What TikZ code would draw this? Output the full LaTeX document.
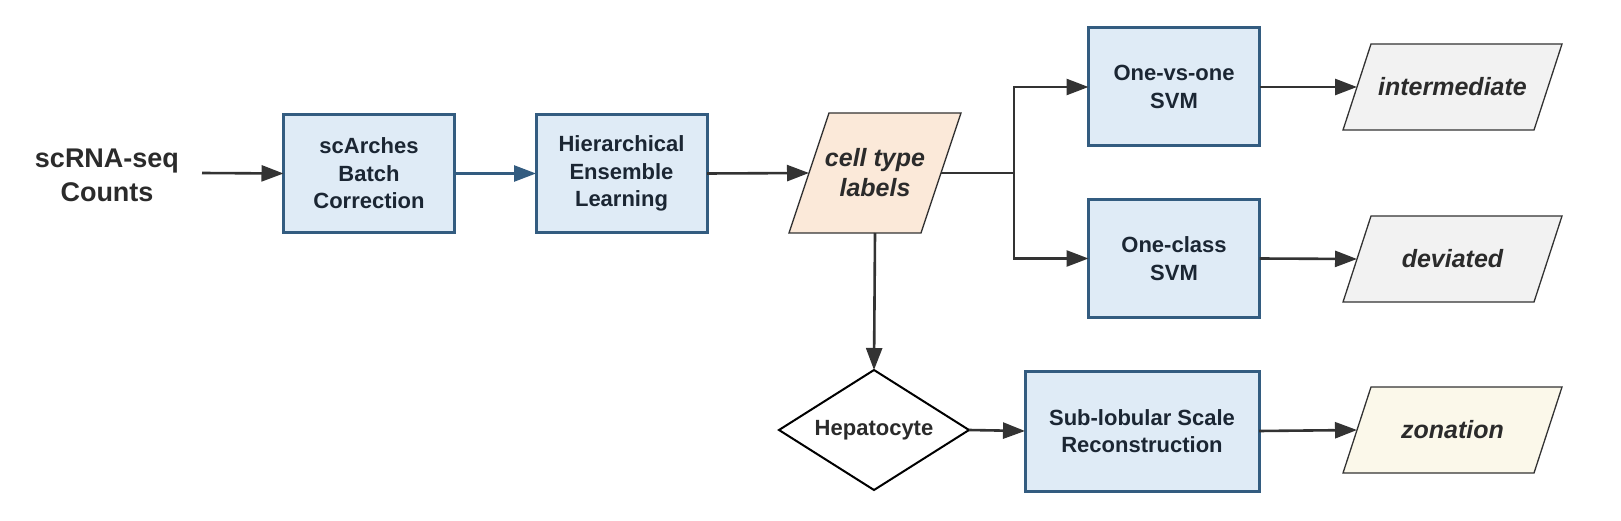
\documentclass[tikz,border=0pt]{standalone}
\usepackage{fontspec}
\setmainfont{Liberation Sans}
\usetikzlibrary{shapes.geometric,arrows.meta}
\pgfdeclarelayer{background}
\pgfsetlayers{background,main}
\definecolor{boxfill}{HTML}{DFEBF6}
\definecolor{boxline}{HTML}{335C80}
\definecolor{arrowgray}{HTML}{333333}
\definecolor{txtdark}{HTML}{1B2633}
\definecolor{txtgray}{HTML}{2B2B2B}
\definecolor{peach}{HTML}{FBE9D9}
\definecolor{lightgray}{HTML}{F2F2F2}
\definecolor{cream}{HTML}{FBF8EA}
\tikzset{
  procbox/.style={draw=boxline, line width=3pt, fill=boxfill, minimum width=171pt, minimum height=118pt,
    inner sep=0pt, outer sep=0pt, align=center, text=txtdark, font=\bfseries\fontsize{22}{27.5}\selectfont},
  datanode/.style={inner sep=0pt, outer sep=0pt, align=center, text=txtgray,
    font=\bfseries\itshape\fontsize{25}{30}\selectfont},
  outnode/.style={datanode, minimum width=191pt, minimum height=86pt},
  pgramline/.style={draw=arrowgray, line width=1.3pt, line join=miter},
  arr/.style={draw=arrowgray, line width=2.6pt, -{Triangle[length=22pt,width=16pt]}},
  link/.style={draw=arrowgray, line width=2.6pt},
  bluearr/.style={draw=boxline, line width=2.6pt, -{Triangle[length=22pt,width=16pt]}},
}
% parallelogram behind a named node: #1 node, #2 half slant, #3 fill
\newcommand\drawpgram[3]{%
  \begin{pgfonlayer}{background}
    \path[pgramline, fill=#3] ([xshift=-#2pt]#1.south west) -- ([xshift=-#2pt]#1.south east)
      -- ([xshift=#2pt]#1.north east) -- ([xshift=#2pt]#1.north west) -- cycle;
  \end{pgfonlayer}}
\begin{document}
\begin{tikzpicture}[x=1pt,y=-1pt]
\useasboundingbox (0,0) rectangle (1621,521);
\node[align=center, text=txtgray, font=\bfseries\fontsize{27}{34}\selectfont] (in) at (107,175) {scRNA-seq\\Counts};
\coordinate (inend) at (202,173);
\node[procbox] (sca) at (369,173.5) {scArches\\Batch\\Correction};
\node[procbox] (hel) at (621.5,173.5) {Hierarchical\\Ensemble\\Learning};
\node[datanode, minimum width=132pt, minimum height=120pt] (ct) at (875,173) {cell type\\labels};
\drawpgram{ct}{20}{peach}
\coordinate (split) at (1014,173);
\node[procbox] (ovo) at (1174,87) {One-vs-one\\SVM};
\node[procbox] (ocs) at (1174,258.5) {One-class\\SVM};
\node[outnode] (int) at (1452.5,87) {intermediate};
\drawpgram{int}{14}{lightgray}
\node[outnode] (dev) at (1452.5,259) {deviated};
\drawpgram{dev}{14}{lightgray}
\node[diamond, aspect=1.6, draw=black, line width=2pt, fill=white, minimum width=190pt, minimum height=120pt, inner sep=0pt, outer sep=0pt,
  text=txtgray, font=\bfseries\fontsize{22}{27.5}\selectfont] (hep) at (874,430) {Hepatocyte};
\node[procbox, minimum width=234pt, minimum height=120pt] (sub) at (1142,431) {Sub-lobular Scale\\Reconstruction};
\node[outnode] (zon) at (1452.5,430) {zonation};
\drawpgram{zon}{14}{cream}

\draw[arr] (inend) -- (sca.west);
\draw[bluearr] (sca.east) -- (hel.west);
\draw[arr] (hel.east) -- (ct.west);
\draw[link] (ct.east) -- (split);
\draw[arr] (split) |- (ovo.west);
\draw[arr] (split) |- (ocs.west);
\draw[arr] (ovo.east) -- (int.west);
\draw[arr] (ocs.east) -- (dev.west);
\draw[arr] (ct.south) -- (hep.north);
\draw[arr] (hep.east) -- (sub.west);
\draw[arr] (sub.east) -- (zon.west);
\end{tikzpicture}
\end{document}
